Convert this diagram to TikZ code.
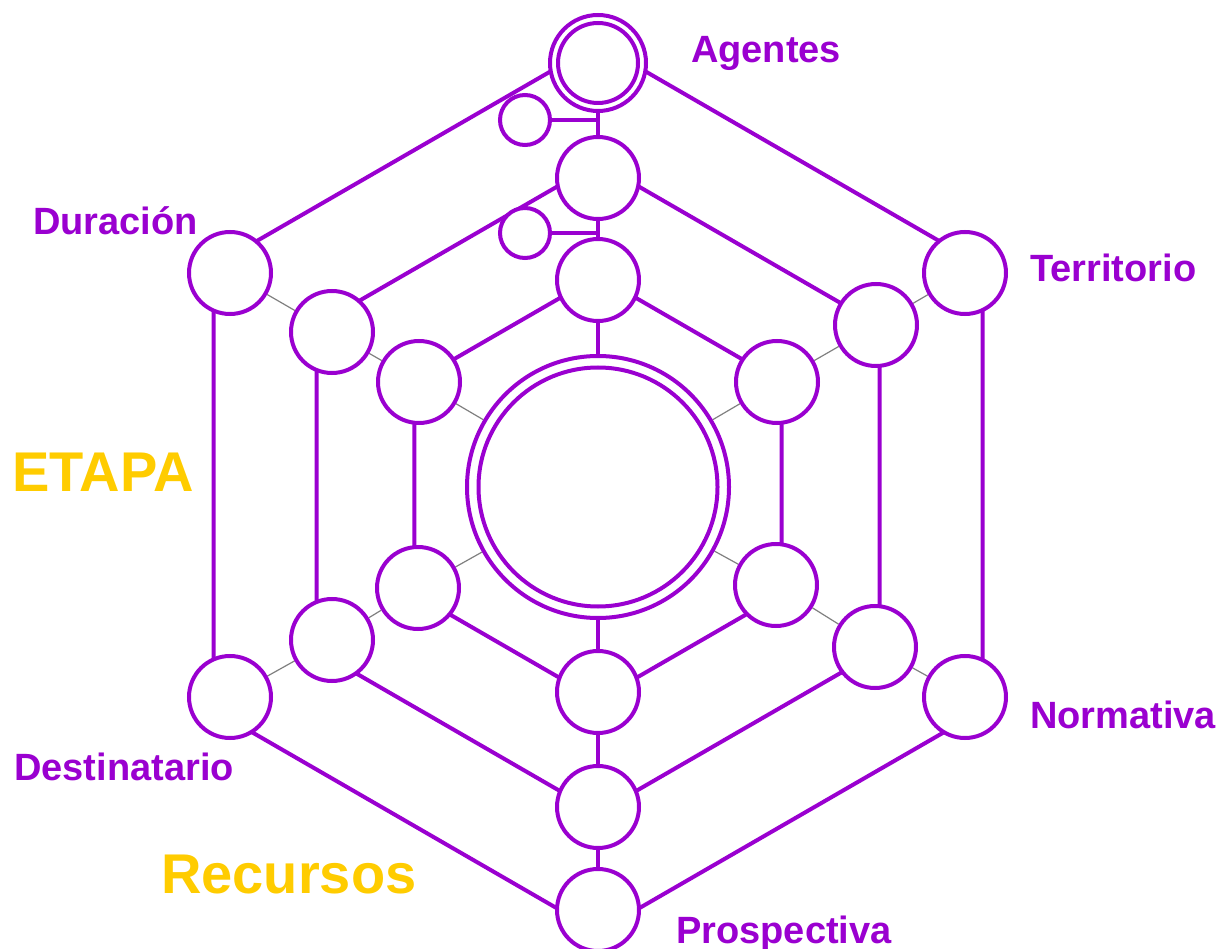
\documentclass[tikz,border=0pt]{standalone}
\usepackage{fontspec}
\setmainfont{Liberation Sans}
\usetikzlibrary{backgrounds}
\definecolor{vio}{HTML}{9A00D0}
\definecolor{gold}{HTML}{FFCC00}
\begin{document}
\begin{tikzpicture}[x=1pt,y=-1pt,
  ring/.style={circle,draw=vio,line width=4pt,fill=white,inner sep=0pt,minimum size=82pt},
  smallring/.style={circle,draw=vio,line width=4pt,fill=white,inner sep=0pt,minimum size=50pt},
  hexedge/.style={draw=vio,line width=4pt},
  graysp/.style={draw=gray,line width=1.2pt},
  lab/.style={text=vio,font=\bfseries\fontsize{38}{40}\selectfont,anchor=base west,inner sep=0pt},
  biglab/.style={text=gold,font=\bfseries\fontsize{56}{60}\selectfont,anchor=base west,inner sep=0pt}]
\useasboundingbox (0,0) rectangle (1219,949);
% central double circle
\node[ring,minimum size=262pt] (cc) at (598,487) {};
\draw[vio,line width=4pt] (cc.center) circle[radius=119.5pt];
% top double circle (Agentes)
\node[ring,minimum size=96pt] (ag) at (598,63) {};
\draw[vio,line width=4pt] (ag.center) circle[radius=40pt];
% vertical column
\node[ring] (mt) at (598,178) {};
\node[ring] (it) at (598,280) {};
\node[ring] (ib) at (598,692) {};
\node[ring] (mb) at (598,807) {};
\node[ring] (ob) at (598,910) {};
\node[smallring] (s1) at (525,120) {};
\node[smallring] (s2) at (525,233) {};
% outer ring nodes
\node[ring] (oUL) at (230,273) {};
\node[ring] (oUR) at (965,273) {};
\node[ring] (oLL) at (230,697) {};
\node[ring] (oLR) at (965,697) {};
% middle ring nodes
\node[ring] (mUL) at (332,332) {};
\node[ring] (mUR) at (876,325) {};
\node[ring] (mLL) at (332,640) {};
\node[ring] (mLR) at (875,647) {};
% inner ring nodes
\node[ring] (iUL) at (419,382) {};
\node[ring] (iUR) at (777,382) {};
\node[ring] (iLL) at (418,588) {};
\node[ring] (iLR) at (776,585) {};
% hexagon corners
\coordinate (oT) at (598,44);   \coordinate (oR1) at (982.5,266); \coordinate (oR2) at (982.5,710);
\coordinate (oB) at (598,932);  \coordinate (oL2) at (213.5,710); \coordinate (oL1) at (213.5,266);
\coordinate (mT) at (598,163);  \coordinate (mR1) at (879.5,325.5); \coordinate (mR2) at (879.5,650.5);
\coordinate (mB) at (598,813);  \coordinate (mL2) at (316.5,650.5); \coordinate (mL1) at (316.5,325.5);
\coordinate (iT) at (598,276);  \coordinate (iR1) at (781.6,382); \coordinate (iR2) at (781.6,594);
\coordinate (iB) at (598,700);  \coordinate (iL2) at (414.4,594); \coordinate (iL1) at (414.4,382);
\begin{scope}[on background layer]
  \fill[white] (0,0) rectangle (1219,949);
  \draw[hexedge] (oT) -- (oR1) -- (oR2) -- (oB) -- (oL2) -- (oL1) -- cycle;
  \draw[hexedge] (mT) -- (mR1) -- (mR2) -- (mB) -- (mL2) -- (mL1) -- cycle;
  \draw[hexedge] (iT) -- (iR1) -- (iR2) -- (iB) -- (iL2) -- (iL1) -- cycle;
  \draw[hexedge] (ag) -- (mt);
  \draw[hexedge] (mt) -- (it);
  \draw[hexedge] (it) -- (cc);
  \draw[hexedge] (cc) -- (ib);
  \draw[hexedge] (ib) -- (mb);
  \draw[hexedge] (mb) -- (ob);
  \draw[hexedge] (s1) -- (s1 -| ag);
  \draw[hexedge] (s2) -- (s2 -| mt);
  \draw[graysp] (oUL) -- (mUL) -- (iUL) -- (cc);
  \draw[graysp] (oUR) -- (mUR) -- (iUR) -- (cc);
  \draw[graysp] (oLL) -- (mLL) -- (iLL) -- (cc);
  \draw[graysp] (oLR) -- (mLR) -- (iLR) -- (cc);
\end{scope}
% labels
\node[lab] (tAg) at (691,63) {Agentes};
\node[lab] (tTe) at (1030,282) {Territorio};
\node[lab] (tDu) at (33,235) {Duración};
\node[lab] (tNo) at (1030,728) {Normativa};
\node[lab] (tDe) at (14,780) {Destinatario};
\node[lab] (tPr) at (676,943) {Prospectiva};
\node[biglab] (tEt) at (12,492) {ETAPA};
\node[biglab] (tRe) at (161,893) {Recursos};
\end{tikzpicture}
\end{document}
